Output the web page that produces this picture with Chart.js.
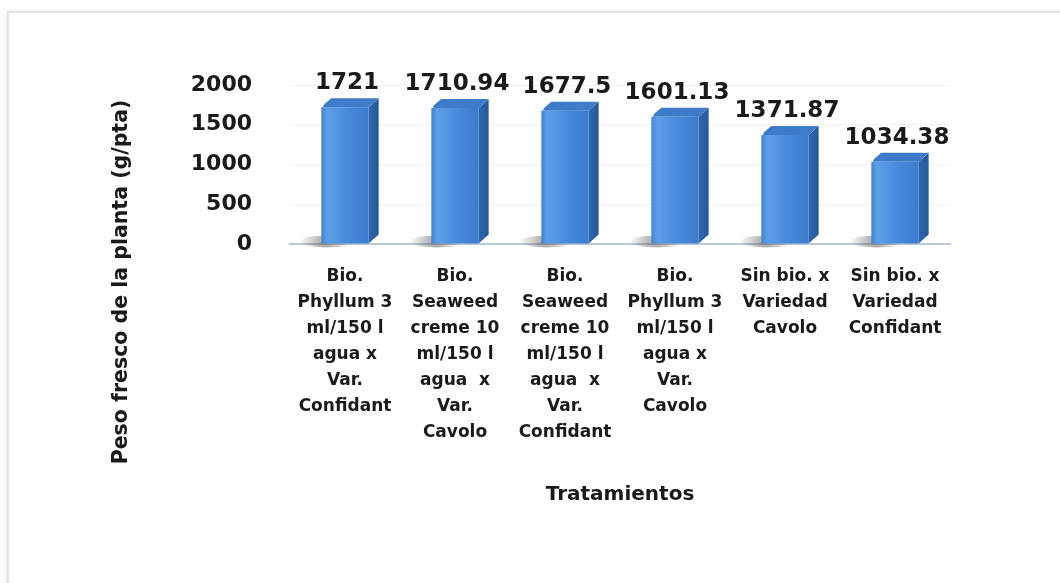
<!DOCTYPE html>
<html><head><meta charset="utf-8">
<script src="https://cdn.jsdelivr.net/npm/chart.js@4.4.1/dist/chart.umd.min.js"></script>
<style>
html,body{margin:0;padding:0;background:#fff;}
#wrap{position:relative;width:1060px;height:583px;overflow:hidden;}
#frame{position:absolute;left:7px;top:11px;width:1100px;height:620px;border:2px solid #e2e2e2;box-shadow:0 0 5px rgba(0,0,0,0.10);}
canvas{position:absolute;left:0;top:0;}
</style></head><body>
<div id="wrap"><div id="frame"></div><canvas id="c" width="1060" height="583"></canvas></div>
<script>
const categories = [
  ["Bio.","Phyllum 3","ml/150 l","agua x","Var.","Confidant"],
  ["Bio.","Seaweed","creme 10","ml/150 l","agua  x","Var.","Cavolo"],
  ["Bio.","Seaweed","creme 10","ml/150 l","agua  x","Var.","Confidant"],
  ["Bio.","Phyllum 3","ml/150 l","agua x","Var.","Cavolo"],
  ["Sin bio. x","Variedad","Cavolo"],
  ["Sin bio. x","Variedad","Confidant"]
];
const values = [1721, 1710.94, 1677.5, 1601.13, 1371.87, 1034.38];
const valueLabels = ["1721","1710.94","1677.5","1601.13","1371.87","1034.38"];
const yTicks = [0, 500, 1000, 1500, 2000];
const yTitle = "Peso fresco de la planta (g/pta)";
const xTitle = "Tratamientos";

const FONT = "'DejaVu Sans', Verdana, sans-serif";
const TEXT = "#1a1a1a";

const bars3d = {
  id: 'bars3d',
  afterDatasetsDraw(chart) {
    const ctx = chart.ctx;
    const meta = chart.getDatasetMeta(0);
    const side = 10, depth = 9;
    meta.data.forEach((bar, i) => {
      const w = bar.width;
      const l = bar.x - w / 2, r = bar.x + w / 2;
      const top = bar.y, base = bar.base;
      ctx.save();
      const sg = ctx.createRadialGradient(l + 4, base - 2, 2, l + 4, base - 2, 26);
      sg.addColorStop(0, 'rgba(70,60,50,0.45)');
      sg.addColorStop(1, 'rgba(70,60,50,0)');
      ctx.fillStyle = sg;
      ctx.beginPath();
      ctx.ellipse(l + 6, base - 2, 28, 6, 0, 0, Math.PI * 2);
      ctx.fill();
      const sideG = ctx.createLinearGradient(r, 0, r + side, 0);
      sideG.addColorStop(0, '#2f66ae');
      sideG.addColorStop(1, '#25589c');
      ctx.fillStyle = sideG;
      ctx.beginPath();
      ctx.moveTo(r, top);
      ctx.lineTo(r + side, top - depth);
      ctx.lineTo(r + side, base - depth);
      ctx.lineTo(r, base);
      ctx.closePath();
      ctx.fill();
      ctx.fillStyle = '#3e7bc8';
      ctx.beginPath();
      ctx.moveTo(l + 3, top);
      ctx.quadraticCurveTo(l, top, l + 4, top - 4);
      ctx.lineTo(l + side, top - depth);
      ctx.lineTo(r + side, top - depth);
      ctx.lineTo(r, top);
      ctx.closePath();
      ctx.fill();
      const fg = ctx.createLinearGradient(l, 0, r, 0);
      fg.addColorStop(0, '#3f82d2');
      fg.addColorStop(0.12, '#5d9fe6');
      fg.addColorStop(0.5, '#4a8ddd');
      fg.addColorStop(1, '#3b7bcb');
      ctx.fillStyle = fg;
      ctx.fillRect(l, top, w, base - top);
      ctx.fillStyle = TEXT;
      ctx.font = "bold 23px " + FONT;
      ctx.textAlign = 'center';
      ctx.textBaseline = 'alphabetic';
      ctx.fillText(valueLabels[i], bar.x + 2, top - depth - 9);
      ctx.restore();
    });
  },
  afterDraw(chart) {
    const ctx = chart.ctx;
    const ca = chart.chartArea;
    ctx.save();
    ctx.translate(ca.left - 168, ca.bottom + 38);
    ctx.rotate(-Math.PI / 2);
    ctx.fillStyle = TEXT;
    ctx.font = "bold 20.5px " + FONT;
    ctx.textAlign = 'center';
    ctx.textBaseline = 'middle';
    ctx.fillText(yTitle, 0, 0);
    ctx.restore();
  }
};

new Chart(document.getElementById('c'), {
  type: 'bar',
  data: {
    labels: categories,
    datasets: [{
      data: values,
      backgroundColor: 'rgba(0,0,0,0)',
      borderWidth: 0,
      barPercentage: 1,
      categoryPercentage: 0.43
    }]
  },
  options: {
    responsive: false,
    animation: false,
    devicePixelRatio: 1,
    layout: { padding: { left: 191, right: 110, top: 85, bottom: 76 } },
    plugins: { legend: { display: false }, tooltip: { enabled: false } },
    scales: {
      x: {
        afterFit(scale) { scale.height = 263; },
        grid: { display: false, drawTicks: false },
        border: { display: true, color: '#b9c8db', width: 2 },
        ticks: {
          autoSkip: false, maxRotation: 0, minRotation: 0,
          padding: 20, color: TEXT,
          font: { family: FONT, weight: 'bold', size: 17, lineHeight: 1.53 }
        },
        title: {
          display: true, text: xTitle, color: TEXT,
          font: { family: FONT, weight: 'bold', size: 20, lineHeight: 1.2 },
          padding: { top: 37, bottom: 0 }
        }
      },
      y: {
        min: 0, max: 2000,
        afterFit(scale) { scale.width = 99; },
        afterBuildTicks(scale) { scale.ticks = yTicks.map(v => ({ value: v })); },
        grid: { color: 'rgba(0,0,0,0.06)', drawTicks: false },
        border: { display: false },
        ticks: {
          padding: 38, color: TEXT,
          callback: (v) => String(v),
          font: { family: FONT, weight: 'bold', size: 22 }
        }
      }
    }
  },
  plugins: [bars3d]
});
</script>
</body></html>
